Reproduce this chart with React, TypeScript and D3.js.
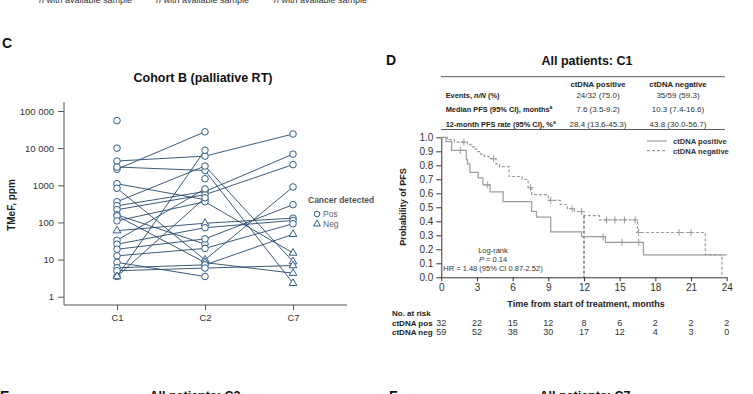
import React from 'react';
import * as d3 from 'd3';

// ---- Panel C: TMeF per patient at each timepoint ----
const timepoints = ['C1', 'C2', 'C7'];
const c1Values = [55000, 10000, 4500, 2700, 3100, 1100, 830, 360, 280, 220, 160, 150, 110, 60, 33, 26, 19, 12.6, 8.4, 6, 5, 3.5, 3.5, null];
const c2Values = [null, null, 6100, 27500, 2500, 410, 9.8, 3300, 680, 560, 26, 8.3, 360, 95, 800, 72, 36, 20, 3.5, 7.2, 5.9, 8800, 460, 1500];
const c7Values = [null, null, 24000, null, 2.3, null, 900, 8.8, 6900, 3600, null, 4.3, 15, 130, null, 113, 300, 92, null, 48, 6.9, null, null, null];
// cancer detected at each sample
const c1Detected = ['Pos', 'Pos', 'Pos', 'Pos', 'Pos', 'Pos', 'Pos', 'Pos', 'Pos', 'Pos', 'Pos', 'Pos', 'Pos', 'Neg', 'Pos', 'Pos', 'Pos', 'Pos', 'Pos', 'Pos', 'Pos', 'Pos', 'Neg', null];
const c2Detected = [null, null, 'Pos', 'Pos', 'Pos', 'Pos', 'Neg', 'Pos', 'Pos', 'Pos', 'Pos', 'Neg', 'Pos', 'Neg', 'Pos', 'Pos', 'Pos', 'Pos', 'Pos', 'Pos', 'Pos', 'Pos', 'Pos', 'Pos'];
const c7Detected = [null, null, 'Pos', null, 'Neg', null, 'Pos', 'Neg', 'Pos', 'Pos', null, 'Neg', 'Neg', 'Pos', null, 'Pos', 'Pos', 'Pos', null, 'Neg', 'Neg', null, null, null];
const yTickValues = [1, 10, 100, 1000, 10000, 100000];
const yTickLabels = ['1', '10', '100', '1000', '10 000', '100 000'];

// ---- Panel D: Kaplan-Meier PFS ----
const posTimes = [0, 0.4, 0.87, 2.1, 2.2, 2.4, 3.1, 3.5, 4.1, 5.2, 7.6, 8.0, 9.2, 11.8, 13.8, 17.0, 24];
const posSurv = [1.0, 0.969, 0.906, 0.84, 0.81, 0.75, 0.71, 0.66, 0.61, 0.54, 0.47, 0.43, 0.325, 0.29, 0.25, 0.16, 0.16];
const posCensor = [1.6, 3.9, 13.6, 15.2, 16.6];
const negTimes = [0, 0.5, 1.1, 2.2, 2.5, 2.8, 3.0, 3.3, 3.6, 4.0, 4.6, 4.9, 5.7, 6.8, 7.3, 7.6, 9.0, 10.0, 10.6, 11.2, 12.0, 13.3, 16.5, 22.2, 23.6];
const negSurv = [1.0, 0.983, 0.966, 0.949, 0.932, 0.915, 0.898, 0.88, 0.864, 0.847, 0.81, 0.79, 0.72, 0.70, 0.64, 0.59, 0.55, 0.52, 0.49, 0.47, 0.44, 0.41, 0.32, 0.16, 0];
const negCensor = [1.9, 4.4, 7.5, 9.2, 11.0, 11.8, 13.9, 14.6, 15.4, 16.3, 16.6, 20.0, 21.0];
const riskMonths = [0, 3, 6, 9, 12, 15, 18, 21, 24];
const posAtRisk = [32, 22, 15, 12, 8, 6, 2, 2, 2];
const negAtRisk = [59, 52, 38, 30, 17, 12, 4, 3, 0];
const survTicks = [0, 0.1, 0.2, 0.3, 0.4, 0.5, 0.6, 0.7, 0.8, 0.9, 1.0];

const tableHeaders = ['ctDNA positive', 'ctDNA negative'];
const tablePos = ['24/32 (75.0)', '7.6 (3.5-9.2)', '28.4 (13.6-45.3)'];
const tableNeg = ['35/59 (59.3)', '10.3 (7.4-16.6)', '43.8 (30.0-56.7)'];

const FONT = '"Liberation Sans", Arial, sans-serif';

const App: React.FC = () => {
  const svgRef = React.useRef<SVGSVGElement>(null);

  React.useEffect(() => {
    if (!svgRef.current) return;
    const svg = d3.select(svgRef.current);
    svg.selectAll('*').remove();
    svg.attr('font-family', FONT);

    // top captions (cut off by the frame)
    [39, 156, 274].forEach(x => {
      const t = svg.append('text').attr('x', x).attr('y', 3).attr('font-size', 9).attr('fill', '#333');
      t.append('tspan').attr('font-style', 'italic').text('n');
      t.append('tspan').text(' with available sample');
    });

    // panel letters
    const letter = (txt: string, x: number, y: number) =>
      svg.append('text').attr('x', x).attr('y', y).attr('font-size', 14).attr('font-weight', 'bold').attr('fill', '#111').text(txt);
    letter('C', 2, 48);
    letter('D', 386, 65);
    letter('E', 0, 401);
    letter('F', 389, 401);

    const title = (txt: string, cx: number, y: number, size = 13) =>
      svg.append('text').attr('x', cx).attr('y', y).attr('text-anchor', 'middle')
        .attr('font-size', size).attr('font-weight', 'bold').attr('fill', '#111').text(txt);

    // ================= Panel C =================
    const y = d3.scaleLog().domain([1, 100000]).range([296.7, 111]);
    const x = d3.scalePoint<string>().domain(timepoints).range([117, 293]);

    title('Cohort B (palliative RT)', 203, 82, 12.5);

    const gy = svg.append('g').attr('transform', 'translate(64,0)')
      .call(d3.axisLeft(y).tickValues(yTickValues).tickFormat((_d, i) => yTickLabels[i]).tickSize(6).tickSizeOuter(0).tickPadding(4));
    gy.select('.domain').remove();
    gy.selectAll('line').attr('stroke', '#555');
    gy.selectAll('text').attr('font-size', 9.5).attr('fill', '#333').attr('font-family', FONT);
    svg.append('line').attr('x1', 64).attr('x2', 64).attr('y1', 102).attr('y2', 305).attr('stroke', '#555');

    const gx = svg.append('g').attr('transform', 'translate(0,305)')
      .call(d3.axisBottom(x).tickSize(5).tickSizeOuter(0).tickPadding(4));
    gx.select('.domain').remove();
    gx.selectAll('line').attr('stroke', '#555');
    gx.selectAll('text').attr('font-size', 9.5).attr('fill', '#333').attr('font-family', FONT);
    svg.append('line').attr('x1', 64).attr('x2', 347).attr('y1', 305).attr('y2', 305).attr('stroke', '#555');

    svg.append('text').attr('transform', 'translate(15,205) rotate(-90)').attr('text-anchor', 'middle')
      .attr('font-size', 10).attr('font-weight', 'bold').attr('fill', '#222').text('TMeF, ppm');

    const cols = [c1Values, c2Values, c7Values];
    const dets = [c1Detected, c2Detected, c7Detected];
    const line = d3.line<{ t: string; v: number }>().x(d => x(d.t) as number).y(d => y(d.v));
    const markers: { t: string; v: number; det: string }[] = [];
    c1Values.forEach((_v, i) => {
      const pts: { t: string; v: number }[] = [];
      timepoints.forEach((t, j) => {
        const v = cols[j][i];
        if (v != null) {
          pts.push({ t, v });
          markers.push({ t, v, det: dets[j][i] as string });
        }
      });
      if (pts.length > 1) {
        svg.append('path').datum(pts).attr('d', line).attr('fill', 'none')
          .attr('stroke', '#27476b').attr('stroke-width', 0.9);
      }
    });
    const markColor = '#2f5d8c';
    markers.forEach(m => {
      const cx = x(m.t) as number;
      const cy = y(m.v);
      if (m.det === 'Neg') {
        svg.append('path').attr('d', d3.symbol(d3.symbolTriangle, 26)())
          .attr('transform', `translate(${cx},${cy})`).attr('fill', 'white').attr('stroke', markColor).attr('stroke-width', 1);
      } else {
        svg.append('circle').attr('cx', cx).attr('cy', cy).attr('r', 3.3)
          .attr('fill', 'white').attr('stroke', markColor).attr('stroke-width', 1);
      }
    });

    // legend
    svg.append('text').attr('x', 308).attr('y', 203).attr('font-size', 8.5).attr('font-weight', 'bold').attr('fill', '#555').text('Cancer detected');
    svg.append('circle').attr('cx', 317).attr('cy', 214).attr('r', 2.8).attr('fill', 'white').attr('stroke', markColor);
    svg.append('text').attr('x', 323).attr('y', 217).attr('font-size', 8.5).attr('fill', '#666').text('Pos');
    svg.append('path').attr('d', d3.symbol(d3.symbolTriangle, 20)()).attr('transform', 'translate(317,224)')
      .attr('fill', 'white').attr('stroke', markColor);
    svg.append('text').attr('x', 323).attr('y', 227).attr('font-size', 8.5).attr('fill', '#666').text('Neg');

    // ================= Panel D =================
    title('All patients: C1', 587, 65, 12.5);

    // summary table
    const tl = 441, tr = 725;
    svg.append('line').attr('x1', tl).attr('x2', tr).attr('y1', 76.7).attr('y2', 76.7).attr('stroke', '#333').attr('stroke-width', 0.8);
    svg.append('line').attr('x1', tl).attr('x2', tr).attr('y1', 129.5).attr('y2', 129.5).attr('stroke', '#333').attr('stroke-width', 0.8);
    const colX = [598, 678];
    tableHeaders.forEach((h, i) => {
      svg.append('text').attr('x', colX[i]).attr('y', 87).attr('text-anchor', 'middle').attr('font-size', 7.8)
        .attr('font-weight', 'bold').attr('fill', '#222').text(h);
    });
    const rowY = [97.5, 112, 127];
    const rowLabel = (ry: number) =>
      svg.append('text').attr('x', 445.7).attr('y', ry).attr('font-size', 7.4).attr('font-weight', 'bold').attr('fill', '#222');
    const r1 = rowLabel(rowY[0]);
    r1.append('tspan').text('Events, ');
    r1.append('tspan').attr('font-style', 'italic').text('n/N');
    r1.append('tspan').text(' (%)');
    const r2 = rowLabel(rowY[1]);
    r2.append('tspan').text('Median PFS (95% CI), months');
    r2.append('tspan').attr('font-size', 5).attr('dy', -3).text('a');
    const r3 = rowLabel(rowY[2]);
    r3.append('tspan').text('12-month PFS rate (95% CI), %');
    r3.append('tspan').attr('font-size', 5).attr('dy', -3).text('a');
    rowY.forEach((ry, i) => {
      svg.append('text').attr('x', colX[0]).attr('y', ry).attr('text-anchor', 'middle').attr('font-size', 8).attr('fill', '#333').text(tablePos[i]);
      svg.append('text').attr('x', colX[1]).attr('y', ry).attr('text-anchor', 'middle').attr('font-size', 8).attr('fill', '#333').text(tableNeg[i]);
    });

    const kx = d3.scaleLinear().domain([0, 24]).range([441.3, 726.7]);
    const ky = d3.scaleLinear().domain([0, 1]).range([277.3, 137.3]);

    const gky = svg.append('g').attr('transform', 'translate(441.3,0)')
      .call(d3.axisLeft(ky).tickValues(survTicks).tickFormat(d3.format('.1f')).tickSize(5).tickSizeOuter(0).tickPadding(3));
    gky.selectAll('line, path').attr('stroke', '#333');
    gky.selectAll('text').attr('font-size', 10).attr('fill', '#333').attr('font-family', FONT);
    const gkx = svg.append('g').attr('transform', 'translate(0,277.3)')
      .call(d3.axisBottom(kx).tickValues(riskMonths).tickSize(4).tickSizeOuter(0).tickPadding(3));
    gkx.selectAll('line, path').attr('stroke', '#333');
    gkx.selectAll('text').attr('font-size', 10).attr('fill', '#333').attr('font-family', FONT);

    svg.append('text').attr('transform', 'translate(406,207) rotate(-90)').attr('text-anchor', 'middle')
      .attr('font-size', 9).attr('font-weight', 'bold').attr('fill', '#222').text('Probability of PFS');
    svg.append('text').attr('x', 586).attr('y', 307).attr('text-anchor', 'middle')
      .attr('font-size', 9).attr('font-weight', 'bold').attr('fill', '#222').text('Time from start of treatment, months');

    // 12-month reference line
    svg.append('line').attr('x1', kx(12)).attr('x2', kx(12)).attr('y1', ky(0.44)).attr('y2', ky(0))
      .attr('stroke', '#333').attr('stroke-dasharray', '3,2').attr('stroke-width', 1);

    const curveColor = '#9c9c9c';
    const step = d3.line<[number, number]>().x(d => kx(d[0])).y(d => ky(d[1])).curve(d3.curveStepAfter);
    const posPts = posTimes.map((t, i) => [t, posSurv[i]] as [number, number]);
    const negPts = negTimes.map((t, i) => [t, negSurv[i]] as [number, number]);
    svg.append('path').datum(negPts).attr('d', step).attr('fill', 'none').attr('stroke', curveColor)
      .attr('stroke-width', 1.2).attr('stroke-dasharray', '3,2');
    svg.append('path').datum(posPts).attr('d', step).attr('fill', 'none').attr('stroke', curveColor).attr('stroke-width', 1.2);

    const survAt = (times: number[], surv: number[], t: number) => {
      let s = surv[0];
      times.forEach((tt, i) => { if (tt <= t) s = surv[i]; });
      return s;
    };
    const cross = (t: number, s: number) => {
      const cx = kx(t), cy = ky(s);
      svg.append('path').attr('d', `M${cx - 3},${cy}H${cx + 3}M${cx},${cy - 3.5}V${cy + 3.5}`)
        .attr('stroke', curveColor).attr('stroke-width', 1);
    };
    posCensor.forEach(t => cross(t, survAt(posTimes, posSurv, t)));
    negCensor.forEach(t => cross(t, survAt(negTimes, negSurv, t)));

    // legend
    svg.append('line').attr('x1', 647).attr('x2', 667).attr('y1', 141).attr('y2', 141).attr('stroke', curveColor).attr('stroke-width', 1.2);
    svg.append('line').attr('x1', 647).attr('x2', 667).attr('y1', 150.7).attr('y2', 150.7).attr('stroke', curveColor)
      .attr('stroke-width', 1.2).attr('stroke-dasharray', '3,2');
    svg.append('text').attr('x', 673).attr('y', 144).attr('font-size', 7.6).attr('font-weight', 'bold').attr('fill', '#333').text('ctDNA positive');
    svg.append('text').attr('x', 673).attr('y', 153.7).attr('font-size', 7.6).attr('font-weight', 'bold').attr('fill', '#333').text('ctDNA negative');

    // log-rank annotation
    svg.append('text').attr('x', 493).attr('y', 253).attr('text-anchor', 'middle').attr('font-size', 7.5).attr('fill', '#333').text('Log-rank');
    const pt = svg.append('text').attr('x', 493).attr('y', 262).attr('text-anchor', 'middle').attr('font-size', 7.5).attr('fill', '#333');
    pt.append('tspan').attr('font-style', 'italic').text('P');
    pt.append('tspan').text(' = 0.14');
    svg.append('text').attr('x', 493).attr('y', 271).attr('text-anchor', 'middle').attr('font-size', 7.5).attr('fill', '#333')
      .text('HR = 1.48 (95% CI 0.87-2.52)');

    // number at risk
    const riskLabel = (txt: string, ry: number) =>
      svg.append('text').attr('x', 392).attr('y', ry).attr('font-size', 8).attr('font-weight', 'bold').attr('fill', '#222').text(txt);
    riskLabel('No. at risk', 316);
    riskLabel('ctDNA pos', 326);
    riskLabel('ctDNA neg', 334.5);
    riskMonths.forEach((m, i) => {
      svg.append('text').attr('x', kx(m)).attr('y', 326).attr('text-anchor', 'middle').attr('font-size', 9).attr('fill', '#333').text(posAtRisk[i]);
      svg.append('text').attr('x', kx(m)).attr('y', 334.5).attr('text-anchor', 'middle').attr('font-size', 9).attr('fill', '#333').text(negAtRisk[i]);
    });

    // bottom panel titles (cut off by the frame)
    title('All patients: C2', 195, 400, 12.5);
    title('All patients: C7', 585, 400, 12.5);
  }, []);

  return (
    <svg
      ref={svgRef}
      width={753}
      height={394}
      style={{ position: 'absolute', left: 0, top: 0, background: 'white' }}
    />
  );
};

export default App;
